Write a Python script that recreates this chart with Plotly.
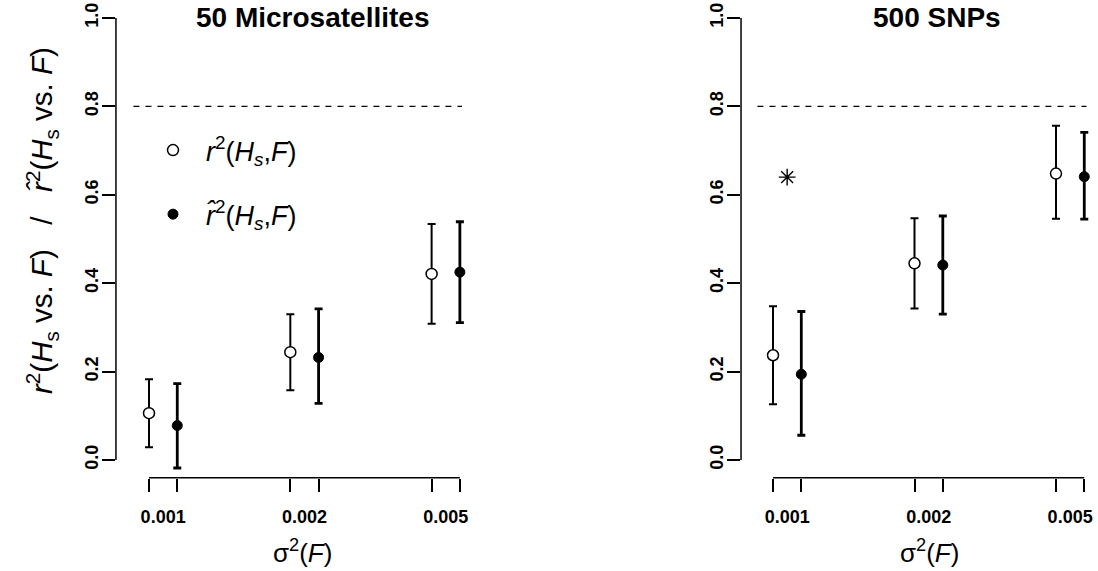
import plotly.graph_objects as go

# Variance of F levels (x-axis groups)
sigma_labels = ["0.001", "0.002", "0.005"]
group_pos = [1, 2, 3]
hat_offset = 0.2

# 50 microsatellites: r^2 (open) and r-hat^2 (filled) with interval bounds
msat_r2 = [0.106, 0.244, 0.421]
msat_r2_lo = [0.029, 0.158, 0.308]
msat_r2_hi = [0.183, 0.330, 0.534]
msat_hat = [0.078, 0.232, 0.425]
msat_hat_lo = [-0.018, 0.128, 0.311]
msat_hat_hi = [0.173, 0.342, 0.539]

# 500 SNPs
snp_r2 = [0.237, 0.445, 0.648]
snp_r2_lo = [0.126, 0.343, 0.546]
snp_r2_hi = [0.348, 0.547, 0.756]
snp_hat = [0.194, 0.441, 0.641]
snp_hat_lo = [0.056, 0.330, 0.545]
snp_hat_hi = [0.336, 0.552, 0.741]

# significance marker in the SNP panel
star_x = [1.1]
star_y = [0.64]

threshold = 0.8
y_ticks = [0.0, 0.2, 0.4, 0.6, 0.8, 1.0]
y_ticktext = ["0.0", "0.2", "0.4", "0.6", "0.8", "1.0"]

FONT = "Liberation Sans, Arial, sans-serif"
R2_LABEL = "<i>r</i><sup>2</sup>(<i>H</i><sub><i>s</i></sub>,<i>F</i>)"
HAT_LABEL = "<i>r\u0302</i><sup>2</sup>(<i>H</i><sub><i>s</i></sub>,<i>F</i>)"
NBSP = "\u00a0"

hat_pos = [p + hat_offset for p in group_pos]
tick_pos = sorted(group_pos + hat_pos)
label_pos = [p + hat_offset / 2 for p in group_pos]


def err(vals, lo, hi, width):
    return dict(type="data", symmetric=False,
                array=[h - v for v, h in zip(vals, hi)],
                arrayminus=[v - l for v, l in zip(vals, lo)],
                color="black", thickness=width, width=4)


fig = go.Figure()

panels = [
    ("x", "y", msat_r2, msat_r2_lo, msat_r2_hi, msat_hat, msat_hat_lo, msat_hat_hi, True),
    ("x2", "y2", snp_r2, snp_r2_lo, snp_r2_hi, snp_hat, snp_hat_lo, snp_hat_hi, False),
]
for xa, ya, r2, r2lo, r2hi, hat, hatlo, hathi, legend in panels:
    fig.add_trace(go.Scatter(
        x=group_pos, y=r2, xaxis=xa, yaxis=ya, mode="markers",
        marker=dict(symbol="circle", size=11, color="white",
                    line=dict(color="black", width=1.5)),
        error_y=err(r2, r2lo, r2hi, 2),
        name=R2_LABEL, showlegend=legend, legendgroup="a"))
    fig.add_trace(go.Scatter(
        x=hat_pos, y=hat, xaxis=xa, yaxis=ya, mode="markers",
        marker=dict(symbol="circle", size=10, color="black",
                    line=dict(color="black", width=1)),
        error_y=err(hat, hatlo, hathi, 2.8),
        name=HAT_LABEL, showlegend=legend, legendgroup="b"))

fig.add_trace(go.Scatter(
    x=star_x, y=star_y, xaxis="x2", yaxis="y2", mode="markers",
    marker=dict(symbol="asterisk-open", size=14, color="black",
                line=dict(color="black", width=1.4)),
    showlegend=False))

ydom = [0.1634, 0.9995]
xdoms = {"x": [0.1056, 0.4317], "x2": [0.6749, 0.9973]}
xranges = {"x": [0.766, 3.30], "x2": [0.774, 3.276]}

# group labels sit between each pair of tick marks; the marks are minor ticks
common_x = dict(showgrid=False, zeroline=False, showline=False, ticks="",
                tickvals=label_pos, ticktext=[f"<b>{s}</b>" for s in sigma_labels],
                tickfont=dict(family=FONT, size=18, color="black"),
                ticklabelstandoff=26,
                minor=dict(tickvals=tick_pos, ticks="outside", ticklen=13,
                           tickwidth=1.5, tickcolor="black", showgrid=False))
common_y = dict(domain=ydom, range=[-0.04, 1.04], showgrid=False, zeroline=False,
                showline=False, ticks="outside", ticklen=13, tickwidth=1.5,
                tickcolor="black", tickvals=y_ticks,
                ticktext=[f"<b>{t}</b>" for t in y_ticktext], tickangle=-90,
                tickfont=dict(family=FONT, size=18, color="black"),
                ticklabelstandoff=-3)

fig.update_layout(
    xaxis=dict(domain=xdoms["x"], range=xranges["x"], anchor="y", **common_x),
    xaxis2=dict(domain=xdoms["x2"], range=xranges["x2"], anchor="y2", **common_x),
    yaxis=dict(anchor="x", **common_y),
    yaxis2=dict(anchor="x2", **common_y),
)

# axis lines limited to the data span, plus the 0.8 reference line
shapes = []
for xa, ya in [("x", "y"), ("x2", "y2")]:
    shapes.append(dict(type="line", xref=f"{xa} domain", yref=ya, x0=0, x1=0,
                       y0=y_ticks[0], y1=y_ticks[-1], line=dict(color="black", width=1.5)))
    shapes.append(dict(type="line", xref=xa, yref=f"{ya} domain", x0=tick_pos[0],
                       x1=tick_pos[-1], y0=0, y1=0, line=dict(color="black", width=1.5)))
    shapes.append(dict(type="line", xref=xa, yref=ya, x0=0.89, x1=3.215,
                       y0=threshold, y1=threshold,
                       line=dict(color="black", width=1.2, dash="6px,6px")))

slash = NBSP * 3 + "/" + NBSP * 3
annotations = [
    dict(text="<b>50 Microsatellites</b>", x=312 / 1098, y=1 - 18 / 571, xref="paper",
         yref="paper", showarrow=False, font=dict(family=FONT, size=28, color="black"),
         xanchor="center", yanchor="middle"),
    dict(text="<b>500 SNPs</b>", x=937 / 1098, y=1 - 18 / 571, xref="paper",
         yref="paper", showarrow=False, font=dict(family=FONT, size=28, color="black"),
         xanchor="center", yanchor="middle"),
    dict(text="\u03c3<sup>2</sup>(<i>F</i>)", x=303 / 1098, y=1 - 551 / 571, xref="paper",
         yref="paper", showarrow=False, font=dict(family=FONT, size=26, color="black"),
         xanchor="center", yanchor="middle"),
    dict(text="\u03c3<sup>2</sup>(<i>F</i>)", x=929 / 1098, y=1 - 551 / 571, xref="paper",
         yref="paper", showarrow=False, font=dict(family=FONT, size=26, color="black"),
         xanchor="center", yanchor="middle"),
    dict(text="<i>r</i><sup>2</sup>(<i>H</i><sub>s</sub> vs. <i>F</i>)" + slash +
              "<i>r\u0302</i><sup>2</sup>(<i>H</i><sub>s</sub> vs. <i>F</i>)",
         x=42 / 1098, y=1 - 221 / 571, xref="paper", yref="paper", showarrow=False,
         textangle=-90, font=dict(family=FONT, size=29.5, color="black"),
         xanchor="center", yanchor="middle"),
]

fig.update_layout(
    width=1098, height=571, margin=dict(l=0, r=0, t=0, b=0),
    paper_bgcolor="white", plot_bgcolor="white",
    font=dict(family=FONT, color="black"),
    shapes=shapes, annotations=annotations,
    legend=dict(x=140 / 1098, y=1 - 126 / 571, xanchor="left", yanchor="top",
                bgcolor="rgba(0,0,0,0)", font=dict(family=FONT, size=27, color="black"),
                tracegroupgap=26, itemwidth=56),
)

fig.write_html("out.html")
